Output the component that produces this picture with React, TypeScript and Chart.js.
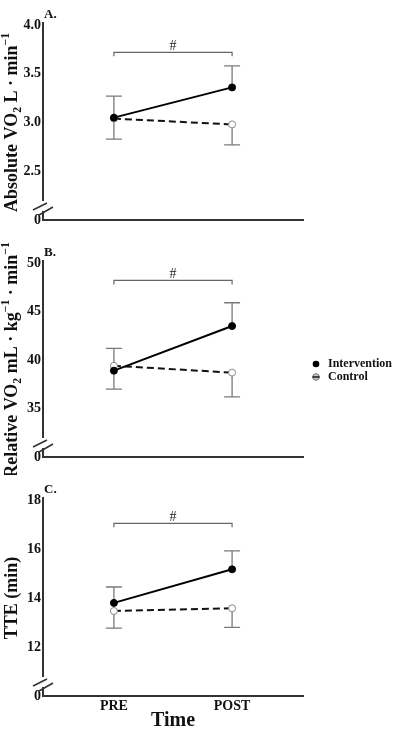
import { useEffect, useRef } from "react";
import { Chart, registerables } from "chart.js";

Chart.register(...registerables);

const FONT = "'Liberation Serif', 'Times New Roman', serif";

// ---- shared categories ----
const timeLabels = ["PRE", "POST"];
const timePositions = [0, 1];
const seriesNames = ["Intervention", "Control"];
const bracketLabel = "#";
const xAxisTitle = "Time";

// ---- Panel A: Absolute VO2 ----
const absInterventionMean = [3.05, 3.36];
const absInterventionSD = [0.22, 0.22];
const absControlMean = [3.04, 2.98];
const absControlSD = [0.21, 0.21];
const absTickValues = [2.0, 2.5, 3.0, 3.5, 4.0];
const absTickLabels = ["0", "2.5", "3.0", "3.5", "4.0"];
const absBracket = 3.72;

// ---- Panel B: Relative VO2 ----
const relInterventionMean = [38.9, 43.5];
const relInterventionSD = [2.3, 2.4];
const relControlMean = [39.4, 38.7];
const relControlSD = [2.4, 2.5];
const relTickValues = [30, 35, 40, 45, 50];
const relTickLabels = ["0", "35", "40", "45", "50"];
const relBracket = 48.2;

// ---- Panel C: TTE ----
const tteInterventionMean = [13.8, 15.17];
const tteInterventionSD = [0.65, 0.75];
const tteControlMean = [13.47, 13.58];
const tteControlSD = [0.7, 0.78];
const tteTickValues = [10, 12, 14, 16, 18];
const tteTickLabels = ["0", "12", "14", "16", "18"];
const tteBracket = 17.05;

type Seg = [string, "n" | "sub" | "sup"];

const absTitle: Seg[] = [["Absolute VO", "n"], ["2", "sub"], [" L · min", "n"], ["−1", "sup"]];
const relTitle: Seg[] = [
  ["Relative VO", "n"], ["2", "sub"], [" mL · kg", "n"], ["−1", "sup"], [" · min", "n"], ["−1", "sup"],
];
const tteTitle: Seg[] = [["TTE (min)", "n"]];

interface PanelCfg {
  letter: string;
  title: Seg[];
  intMean: number[];
  intSD: number[];
  ctlMean: number[];
  ctlSD: number[];
  tickValues: number[];
  tickLabels: string[];
  bracket: number;
  top: number;
  height: number;
  padTop: number;
  xHeight: number;
  showX: boolean;
  legend: boolean;
  legendY: number[];
}

const panels: PanelCfg[] = [
  {
    letter: "A.", title: absTitle, intMean: absInterventionMean, intSD: absInterventionSD,
    ctlMean: absControlMean, ctlSD: absControlSD, tickValues: absTickValues, tickLabels: absTickLabels,
    bracket: absBracket, top: 0, height: 245, padTop: 25, xHeight: 25, showX: false, legend: false, legendY: [],
  },
  {
    letter: "B.", title: relTitle, intMean: relInterventionMean, intSD: relInterventionSD,
    ctlMean: relControlMean, ctlSD: relControlSD, tickValues: relTickValues, tickLabels: relTickLabels,
    bracket: relBracket, top: 238, height: 237, padTop: 25, xHeight: 18, showX: false, legend: true,
    legendY: [126, 139],
  },
  {
    letter: "C.", title: tteTitle, intMean: tteInterventionMean, intSD: tteInterventionSD,
    ctlMean: tteControlMean, ctlSD: tteControlSD, tickValues: tteTickValues, tickLabels: tteTickLabels,
    bracket: tteBracket, top: 475, height: 261, padTop: 25, xHeight: 40, showX: true, legend: false, legendY: [],
  },
];

function drawRichVertical(ctx: CanvasRenderingContext2D, segs: Seg[], bx: number, cy: number, size: number) {
  ctx.save();
  ctx.translate(bx, cy);
  ctx.rotate(-Math.PI / 2);
  let total = 0;
  const items = segs.map(([t, mode]) => {
    const s = mode === "n" ? size : size * 0.65;
    ctx.font = `bold ${s}px ${FONT}`;
    const w = ctx.measureText(t).width;
    total += w;
    return { t, mode, s, w };
  });
  let x = -total / 2;
  ctx.textAlign = "left";
  ctx.textBaseline = "alphabetic";
  ctx.fillStyle = "#111";
  for (const it of items) {
    ctx.font = `bold ${it.s}px ${FONT}`;
    const dy = it.mode === "sub" ? size * 0.22 : it.mode === "sup" ? -size * 0.42 : 0;
    ctx.fillText(it.t, x, dy);
    x += it.w;
  }
  ctx.restore();
}

function makePlugin(p: PanelCfg) {
  return {
    id: "panelDecor",
    beforeDatasetsDraw(chart: any) {
      const ctx: CanvasRenderingContext2D = chart.ctx;
      const xs = chart.scales.x;
      const ys = chart.scales.y;
      const groups = [
        { mean: p.intMean, sd: p.intSD, dir: 1 },
        { mean: p.ctlMean, sd: p.ctlSD, dir: -1 },
      ];
      ctx.save();
      ctx.strokeStyle = "#7a7a7a";
      ctx.lineWidth = 1.3;
      for (const g of groups) {
        g.mean.forEach((m, j) => {
          const x = xs.getPixelForValue(timePositions[j]);
          const y0 = ys.getPixelForValue(m);
          const y1 = ys.getPixelForValue(m + g.dir * g.sd[j]);
          ctx.beginPath();
          ctx.moveTo(x, y0);
          ctx.lineTo(x, y1);
          ctx.moveTo(x - 8, y1);
          ctx.lineTo(x + 8, y1);
          ctx.stroke();
        });
      }
      ctx.restore();
    },
    afterDraw(chart: any) {
      const ctx: CanvasRenderingContext2D = chart.ctx;
      const { left, top, bottom } = chart.chartArea;
      const xs = chart.scales.x;
      const ys = chart.scales.y;
      ctx.save();
      // y axis with break
      ctx.strokeStyle = "#333";
      ctx.lineWidth = 2;
      ctx.beginPath();
      ctx.moveTo(left, top - 3);
      ctx.lineTo(left, bottom - 19);
      ctx.moveTo(left, bottom - 9);
      ctx.lineTo(left, bottom);
      ctx.stroke();
      ctx.lineWidth = 1.6;
      ctx.beginPath();
      ctx.moveTo(left - 10, bottom - 10);
      ctx.lineTo(left + 4, bottom - 17);
      ctx.moveTo(left - 4, bottom - 5);
      ctx.lineTo(left + 10, bottom - 13);
      ctx.stroke();

      // significance bracket
      const bx0 = xs.getPixelForValue(timePositions[0]);
      const bx1 = xs.getPixelForValue(timePositions[1]);
      const by = ys.getPixelForValue(p.bracket);
      ctx.strokeStyle = "#666";
      ctx.lineWidth = 1.2;
      ctx.beginPath();
      ctx.moveTo(bx0, by + 4);
      ctx.lineTo(bx0, by);
      ctx.lineTo(bx1, by);
      ctx.lineTo(bx1, by + 4);
      ctx.stroke();
      ctx.fillStyle = "#222";
      ctx.font = `14px ${FONT}`;
      ctx.textAlign = "center";
      ctx.textBaseline = "alphabetic";
      ctx.fillText(bracketLabel, (bx0 + bx1) / 2, by - 2);

      // panel letter
      ctx.font = `bold 13px ${FONT}`;
      ctx.textAlign = "left";
      ctx.fillStyle = "#111";
      ctx.fillText(p.letter, left + 1, top - 7);

      // y title
      drawRichVertical(ctx, p.title, 17, (top + bottom) / 2, 18);

      // legend
      if (p.legend) {
        const mx = 316;
        const [ly0, ly1] = p.legendY;
        ctx.fillStyle = "#000";
        ctx.beginPath();
        ctx.arc(mx, ly0, 3.3, 0, Math.PI * 2);
        ctx.fill();
        ctx.fillStyle = "#c8c8c8";
        ctx.strokeStyle = "#777";
        ctx.lineWidth = 1;
        ctx.beginPath();
        ctx.arc(mx, ly1, 3.3, 0, Math.PI * 2);
        ctx.fill();
        ctx.stroke();
        ctx.strokeStyle = "#222";
        ctx.lineWidth = 1.6;
        ctx.beginPath();
        ctx.moveTo(mx - 3.5, ly1);
        ctx.lineTo(mx + 3.5, ly1);
        ctx.stroke();
        ctx.fillStyle = "#111";
        ctx.font = `bold 12px ${FONT}`;
        ctx.textBaseline = "middle";
        ctx.textAlign = "left";
        ctx.fillText(seriesNames[0], 328, ly0);
        ctx.fillText(seriesNames[1], 328, ly1);
      }
      ctx.restore();
    },
  };
}

function Panel({ p }: { p: PanelCfg }) {
  const ref = useRef<HTMLCanvasElement | null>(null);
  useEffect(() => {
    if (!ref.current) return;
    const chart = new Chart(ref.current, {
      type: "line",
      data: {
        datasets: [
          {
            label: seriesNames[0],
            data: p.intMean.map((v, i) => ({ x: timePositions[i], y: v })),
            borderColor: "#000",
            borderWidth: 2,
            pointRadius: 3.5,
            pointBackgroundColor: "#000",
            pointBorderColor: "#000",
            pointBorderWidth: 1,
          },
          {
            label: seriesNames[1],
            data: p.ctlMean.map((v, i) => ({ x: timePositions[i], y: v })),
            borderColor: "#111",
            borderWidth: 2,
            borderDash: [7, 4],
            pointRadius: 3.5,
            pointBackgroundColor: "#fff",
            pointBorderColor: "#888",
            pointBorderWidth: 1,
          },
        ],
      },
      options: {
        responsive: false,
        animation: false,
        layout: { padding: { top: p.padTop, right: 94, left: 0, bottom: 0 } },
        plugins: { legend: { display: false }, tooltip: { enabled: false }, title: { display: false } },
        scales: {
          x: {
            type: "linear",
            min: -0.6,
            max: 1.6,
            grid: { display: false },
            border: { display: true, color: "#333", width: 2 },
            afterBuildTicks: (s: any) => {
              s.ticks = timePositions.map((v) => ({ value: v }));
            },
            afterFit: (s: any) => {
              s.height = p.xHeight;
            },
            ticks: {
              display: p.showX,
              padding: -6,
              color: "#111",
              font: { family: FONT, size: 14, weight: "bold" },
              callback: (v: any) => timeLabels[timePositions.indexOf(Number(v))] ?? "",
            },
            title: {
              display: p.showX,
              text: xAxisTitle,
              color: "#111",
              font: { family: FONT, size: 20, weight: "bold" },
              padding: { top: 0, bottom: 3 },
            },
          },
          y: {
            type: "linear",
            min: p.tickValues[0],
            max: p.tickValues[p.tickValues.length - 1],
            grid: { display: false, drawTicks: false },
            border: { display: false },
            afterBuildTicks: (s: any) => {
              s.ticks = p.tickValues.map((v) => ({ value: v }));
            },
            afterFit: (s: any) => {
              s.width = 43;
            },
            ticks: {
              padding: 2,
              color: "#111",
              autoSkip: false,
              font: { family: FONT, size: 14, weight: "bold" },
              callback: (_v: any, i: number) => p.tickLabels[i],
            },
          },
        },
      } as any,
      plugins: [makePlugin(p)],
    });
    return () => chart.destroy();
  }, [p]);
  return (
    <canvas
      ref={ref}
      width={397}
      height={p.height}
      style={{ position: "absolute", left: 0, top: p.top, display: "block" }}
    />
  );
}

export default function App() {
  useEffect(() => {
    document.body.style.margin = "0";
  }, []);
  return (
    <div style={{ position: "relative", width: 397, height: 736, background: "#fff" }}>
      {panels.map((p) => (
        <Panel key={p.letter} p={p} />
      ))}
    </div>
  );
}
